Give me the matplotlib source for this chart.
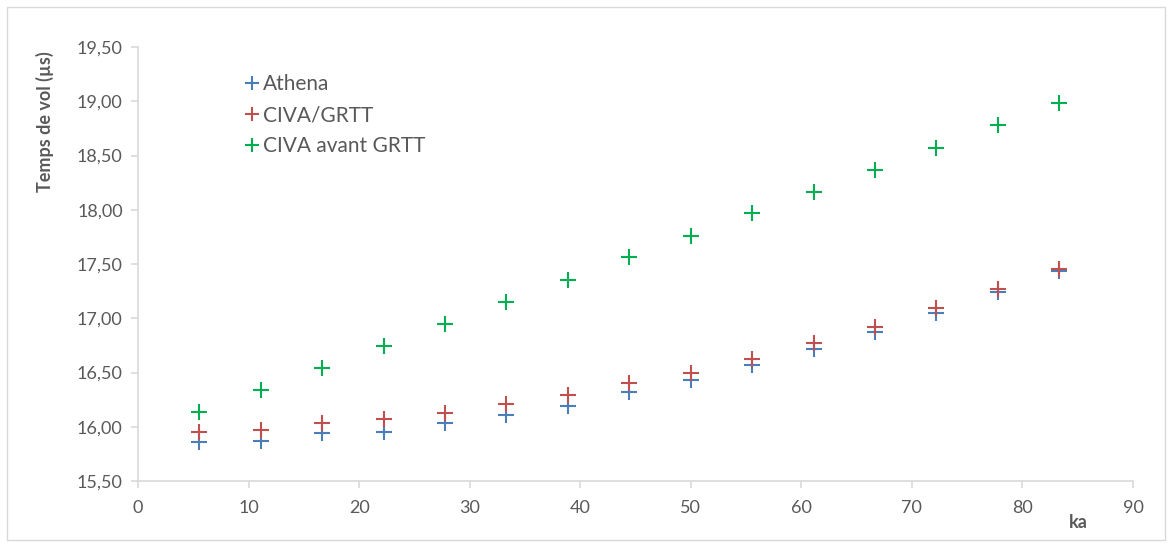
import numpy as np
import matplotlib.pyplot as plt
from matplotlib.patches import Rectangle
from matplotlib.ticker import FuncFormatter

# values
ka = [5.56, 11.11, 16.67, 22.22, 27.78, 33.33, 38.89, 44.44,
      50.0, 55.56, 61.11, 66.67, 72.22, 77.78, 83.33]
athena = [15.86, 15.87, 15.94, 15.95, 16.03, 16.11, 16.19, 16.32,
          16.43, 16.57, 16.72, 16.87, 17.05, 17.24, 17.44]
civa_grtt = [15.95, 15.97, 16.03, 16.07, 16.13, 16.21, 16.29, 16.40,
             16.50, 16.62, 16.77, 16.92, 17.09, 17.27, 17.45]
civa_avant = [16.14, 16.34, 16.54, 16.74, 16.95, 17.15, 17.35, 17.56,
              17.76, 17.97, 18.16, 18.37, 18.57, 18.78, 18.98]

plt.rcParams['font.family'] = ['Lato', 'DejaVu Sans']

fig = plt.figure(figsize=(11.72, 5.45), dpi=100)
W, H = 1172, 545
ax = fig.add_axes([138 / W, 1 - 481 / H, (1133 - 138) / W, (481 - 47) / H])

# outer chart border
fig.patches.append(Rectangle((7 / W, 5 / H), (1165 - 7) / W, (538 - 5) / H,
                             transform=fig.transFigure, fill=False,
                             edgecolor='#d9d9d9', linewidth=1))

ms = 11
mew = 1.5
ax.plot(ka, athena, '+', color='#4a7ebb', ms=ms, mew=mew, label='Athena')
ax.plot(ka, civa_grtt, '+', color='#c0504d', ms=ms, mew=mew, label='CIVA/GRTT')
ax.plot(ka, civa_avant, '+', color='#00b050', ms=ms, mew=mew, label='CIVA avant GRTT')

ax.set_xlim(0, 90)
ax.set_ylim(15.5, 19.5)
ax.set_xticks(np.arange(0, 91, 10))
ax.set_yticks(np.arange(15.5, 19.51, 0.5))
ax.yaxis.set_major_formatter(FuncFormatter(lambda v, p: f'{v:.2f}'.replace('.', ',')))

for s in ['top', 'right']:
    ax.spines[s].set_visible(False)
for s in ['left', 'bottom']:
    ax.spines[s].set_color('#d9d9d9')
    ax.spines[s].set_linewidth(1.2)
ax.tick_params(colors='#d9d9d9', labelcolor='#595959', labelsize=13,
               length=5, width=1.2)
ax.tick_params(axis='x', pad=9)
ax.tick_params(axis='y', pad=6)

# axis titles placed like the Excel original
fig.text(45 / W, 1 - 122 / H, 'Temps de vol (µs)', fontsize=13, fontweight='bold',
         color='#595959', ha='center', va='center', rotation=90)
fig.text(1078 / W, 1 - 522 / H, 'ka', fontsize=13, fontweight='bold',
         color='#595959', ha='center', va='center')

leg = ax.legend(loc='upper left', bbox_to_anchor=(0.084, 0.98), frameon=False,
                fontsize=15, handletextpad=0.0, labelspacing=0.52,
                handlelength=1.1, markerscale=0.9)
for t in leg.get_texts():
    t.set_color('#595959')

fig.savefig('out.png', dpi=100)
